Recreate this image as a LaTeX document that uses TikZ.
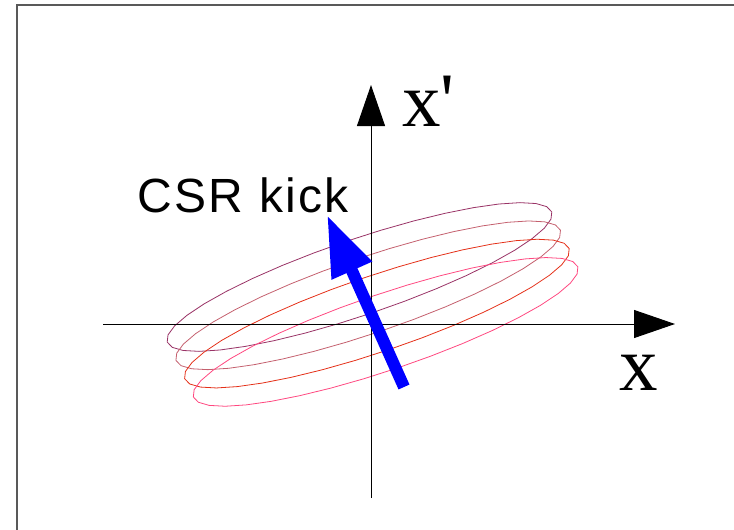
\documentclass[tikz,border=0pt]{standalone}
\usepackage{fontspec}
\setmainfont{Liberation Serif}
\newfontfamily\kickfont[LetterSpace=5]{Liberation Sans}
\newfontfamily\axisfont[Ligatures=TeXOff]{Liberation Serif}
\usetikzlibrary{arrows.meta}

\definecolor{ellpurple}{RGB}{153,51,102}
\definecolor{ellmauve}{RGB}{196,96,110}
\definecolor{ellred}{RGB}{228,48,24}
\definecolor{ellpink}{RGB}{255,72,128}
\definecolor{kickblue}{RGB}{0,0,255}

\tikzset{
  axis/.style={line width=1pt, -{Triangle[length=41pt,width=28pt]}},
  ellipse line/.style={line width=0.8pt},
  axis label/.style={inner sep=0pt, anchor=base west, font=\axisfont\fontsize{77}{80}\selectfont},
}

\begin{document}
\begin{tikzpicture}[
    x=1pt,
    y=-1pt
]
\useasboundingbox (0,0) rectangle (734,530);

% frame
\draw[black!65, line width=1.5pt] (17,530) -- (17,5) -- (734,5);

% phase space ellipses
\foreach \n/\col in {0/ellpurple,1/ellmauve,2/ellred,3/ellpink} {
  \draw[ellipse line, \col, shift={(359.5+8.7*\n,277+18.3*\n)}, rotate=18.7]
    plot[samples=37, domain=0:360] ({203*cos(\x)},{38*sin(\x)}) -- cycle;
}

% axes
\coordinate (xstart) at (103,324);
\coordinate (xend) at (675,324);
\coordinate (ystart) at (371,498);
\coordinate (yend) at (371,85);
\draw[axis] (xstart) -- (xend);
\draw[axis] (ystart) -- (yend);

\node[axis label] (xlab) at (619,390) {x};
\node[axis label] (xplab) at (402,126) {x'};

% kick
\node[inner sep=0pt, anchor=base west, font=\kickfont\fontsize{48}{52}\selectfont] (kicklab) at (137,212) {CSR kick};
\coordinate (kicktail) at (404,387);
\coordinate (kicktip) at (327,215);
\draw[kickblue, line width=12pt, -{Triangle[length=61pt,width=41pt]}] (kicktail) -- (kicktip);
\end{tikzpicture}
\end{document}
